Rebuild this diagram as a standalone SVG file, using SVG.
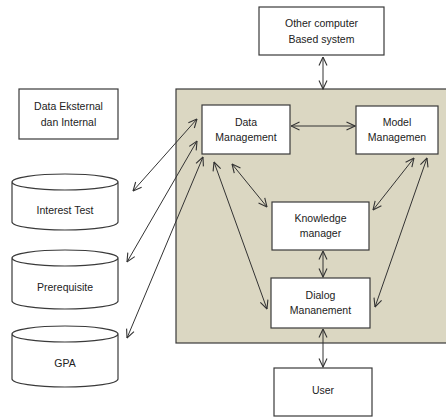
<svg xmlns="http://www.w3.org/2000/svg" width="446" height="419" viewBox="0 0 446 419">
<style>
.box{fill:#fff;stroke:#3a3a3a;stroke-width:1.2}
.panel{fill:#dbd7c2;stroke:#3a3a3a;stroke-width:1.2}
.t{font-family:"Liberation Sans",Arial,sans-serif;font-size:10.5px;fill:#222;text-anchor:middle}
.c{stroke:#333;stroke-width:1;fill:none;marker-start:url(#ah);marker-end:url(#ah)}
</style>
<defs>
<marker id="ah" viewBox="0 0 10 10" refX="9.5" refY="5" markerWidth="10" markerHeight="10" markerUnits="userSpaceOnUse" orient="auto-start-reverse">
<path d="M1,1 L9.5,5 L1,9" fill="none" stroke="#333" stroke-width="1.1"/>
</marker>
</defs>
<rect id="panel" class="panel" x="176" y="89" width="272" height="254"/>
<g id="other"><rect class="box" x="259" y="7" width="125" height="48"/><text class="t" x="321.5" y="27">Other computer</text><text class="t" x="321.5" y="43">Based system</text></g>
<g id="ext"><rect class="box" x="19" y="89" width="99" height="50"/><text class="t" x="68.5" y="110">Data Eksternal</text><text class="t" x="68.5" y="126">dan Internal</text></g>
<g id="dm"><rect class="box" x="202" y="105" width="88" height="49"/><text class="t" x="246" y="126">Data</text><text class="t" x="246" y="141">Management</text></g>
<g id="mm"><rect class="box" x="356" y="106" width="82" height="48"/><text class="t" x="397" y="126">Model</text><text class="t" x="397" y="141">Managemen</text></g>
<g id="km"><rect class="box" x="272" y="202" width="97" height="48"/><text class="t" x="320.5" y="222">Knowledge</text><text class="t" x="320.5" y="237">manager</text></g>
<g id="dlg"><rect class="box" x="271" y="278" width="99" height="50"/><text class="t" x="320.5" y="299">Dialog</text><text class="t" x="320.5" y="314">Mananement</text></g>
<g id="user"><rect class="box" x="274" y="368" width="98" height="48"/><text class="t" x="323" y="394">User</text></g>
<g id="interest"><path class="box" d="M12,182 L12,222 A53,8 0 0 0 118,222 L118,182 A53,8 0 0 0 12,182 A53,8 0 0 0 118,182"/><text class="t" x="65" y="214">Interest Test</text></g>
<g id="prereq"><path class="box" d="M12,258 L12,301 A53,8 0 0 0 118,301 L118,258 A53,8 0 0 0 12,258 A53,8 0 0 0 118,258"/><text class="t" x="65" y="291">Prerequisite</text></g>
<g id="gpa"><path class="box" d="M12,334 L12,379 A53,8 0 0 0 118,379 L118,334 A53,8 0 0 0 12,334 A53,8 0 0 0 118,334"/><text class="t" x="65" y="367">GPA</text></g>
<g id="connectors">
<line class="c" x1="323" y1="57" x2="323" y2="89"/>
<line class="c" x1="291" y1="126" x2="355" y2="126"/>
<line class="c" x1="133" y1="191" x2="197" y2="119"/>
<line class="c" x1="127" y1="262" x2="197" y2="141"/>
<line class="c" x1="127" y1="338" x2="203" y2="157"/>
<line class="c" x1="214" y1="162" x2="267" y2="309"/>
<line class="c" x1="232" y1="164" x2="267" y2="207"/>
<line class="c" x1="373" y1="210" x2="414" y2="158"/>
<line class="c" x1="427" y1="158" x2="375" y2="307"/>
<line class="c" x1="323" y1="251" x2="323" y2="277"/>
<line class="c" x1="323" y1="329" x2="323" y2="367"/>
</g>
</svg>
